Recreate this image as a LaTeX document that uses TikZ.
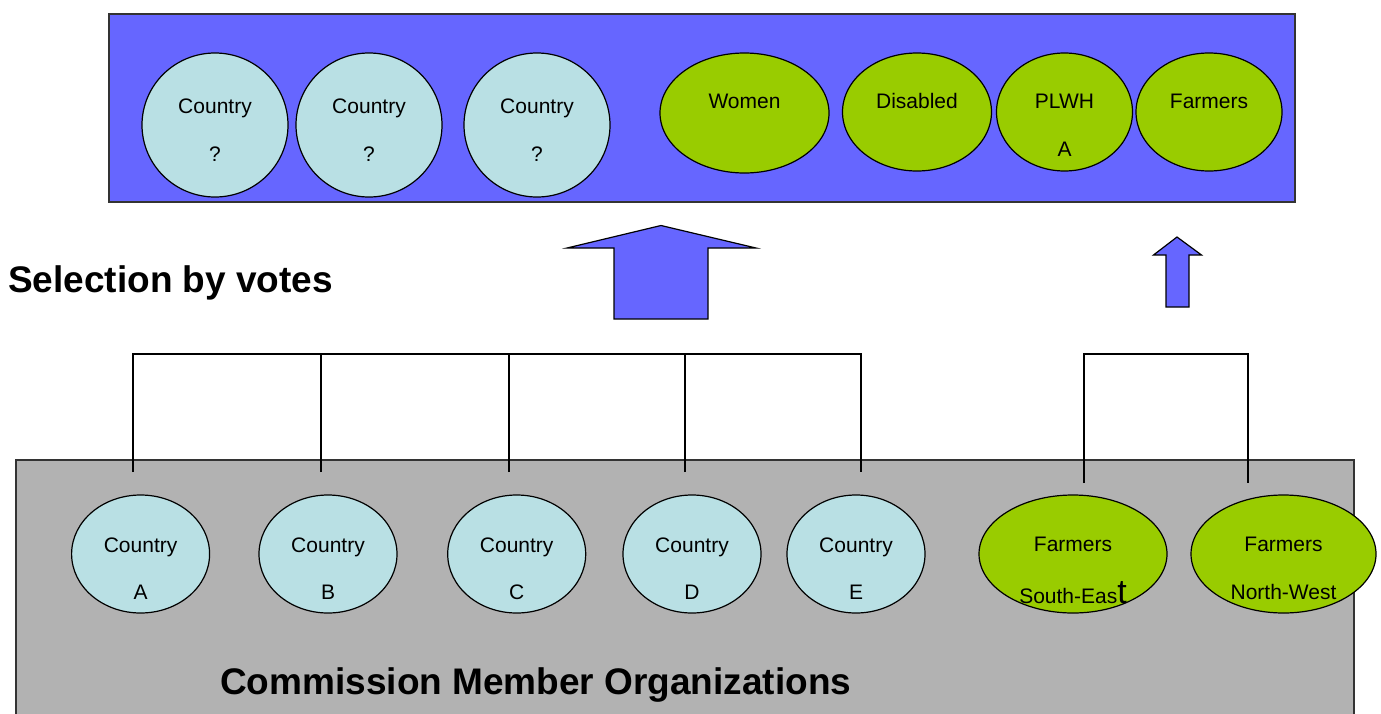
\documentclass[tikz,border=0pt]{standalone}
\usepackage{fontspec}
\setmainfont{Liberation Sans}
\usetikzlibrary{shapes.geometric}
\definecolor{topblue}{HTML}{6666FF}
\definecolor{cyanish}{HTML}{B9E0E4}
\definecolor{greenish}{HTML}{99CC00}
\definecolor{boxgray}{HTML}{B2B2B2}
\definecolor{edgegray}{HTML}{333333}
\begin{document}
\begin{tikzpicture}[x=1pt,y=-1pt,
  ell/.style={ellipse, draw=black, line width=1.2pt, inner sep=0pt},
  cty/.style={ell, fill=cyanish},
  grp/.style={ell, fill=greenish},
  lbl/.style={inner sep=0pt, anchor=base, font=\fontsize{21}{25}\selectfont},
  big/.style={inner sep=0pt, anchor=base west, font=\fontsize{37}{42}\selectfont\bfseries},
  wire/.style={line width=1.4pt, draw=black},
  fatarrow/.style={fill=topblue, draw=black, line width=1.2pt, line join=miter},
  panel/.style={draw=edgegray, line width=1.4pt, inner sep=0pt}
]
\useasboundingbox (0,0) rectangle (1381,713);
\clip (0,0) rectangle (1381,713);

% top panel
\node[panel, fill=topblue, minimum width=1186pt, minimum height=188pt] (toppanel) at (702,108) {};
\node[cty, minimum width=146pt, minimum height=144pt] (q1) at (215,125) {};
\node[cty, minimum width=146pt, minimum height=144pt] (q2) at (369,125) {};
\node[cty, minimum width=146pt, minimum height=144pt] (q3) at (537,125) {};
\node[lbl] (q1a) at (215,113.5) {Country};
\node[lbl] (q1b) at (215,161) {?};
\node[lbl] (q2a) at (369,113.5) {Country};
\node[lbl] (q2b) at (369,161) {?};
\node[lbl] (q3a) at (537,113.5) {Country};
\node[lbl] (q3b) at (537,161) {?};

\node[grp, minimum width=169pt, minimum height=120pt] (women) at (744.5,113) {};
\node[grp, minimum width=149pt, minimum height=118pt] (disabled) at (917,112) {};
\node[grp, minimum width=136pt, minimum height=118pt] (plwh) at (1064.5,112) {};
\node[grp, minimum width=146pt, minimum height=118pt] (farmtop) at (1209,112) {};
\node[lbl] (womenl) at (744.5,108) {Women};
\node[lbl] (disabledl) at (917,108) {Disabled};
\node[lbl] (plwhl) at (1064.5,108) {PLWH};
\node[lbl] (plwhl2) at (1064.5,156) {A};
\node[lbl] (farmtopl) at (1209,108) {Farmers};

% arrows
\draw[fatarrow] (614,319) -- (614,248) -- (567,248) -- (661,225.5) -- (756,248) -- (708,248) -- (708,319) -- cycle;
\draw[fatarrow] (1166,307) -- (1166,255) -- (1153.5,255) -- (1177,237) -- (1201.5,255) -- (1189,255) -- (1189,307) -- cycle;

% title
\node[big] (sel) at (8,292.5) {Selection by votes};

% bottom panel
\node[panel, fill=boxgray, minimum width=1338pt, minimum height=280pt] (cmo) at (685,600) {};

% connectors
\coordinate (ea) at (133,472);
\coordinate (eb) at (321,472);
\coordinate (ec) at (509,472);
\coordinate (ed) at (685,472);
\coordinate (ee) at (861,472);
\coordinate (ba) at (133,354);
\coordinate (bb) at (321,354);
\coordinate (bc) at (509,354);
\coordinate (bd) at (685,354);
\coordinate (be) at (861,354);
\draw[wire] (ea) -- (ba) -- (be) -- (ee);
\draw[wire] (eb) -- (bb);
\draw[wire] (ec) -- (bc);
\draw[wire] (ed) -- (bd);
\coordinate (efs) at (1084,483);
\coordinate (efn) at (1248,483);
\coordinate (bfs) at (1084,354);
\coordinate (bfn) at (1248,354);
\draw[wire] (efs) -- (bfs) -- (bfn) -- (efn);

% bottom ellipses
\node[cty, minimum width=138pt, minimum height=118pt] (ca) at (140.6,554) {};
\node[cty, minimum width=138pt, minimum height=118pt] (cb) at (328,554) {};
\node[cty, minimum width=138pt, minimum height=118pt] (cc) at (516.7,554) {};
\node[cty, minimum width=138pt, minimum height=118pt] (cd) at (692,554) {};
\node[cty, minimum width=138pt, minimum height=118pt] (ce) at (856,554) {};
\node[grp, minimum width=188pt, minimum height=118pt] (fse) at (1073,554) {};
\node[grp, minimum width=185pt, minimum height=118pt] (fnw) at (1283.5,554) {};
\node[lbl] (cal) at (140.6,552) {Country};
\node[lbl] (ca2) at (140.6,599) {A};
\node[lbl] (cbl) at (328,552) {Country};
\node[lbl] (cb2) at (328,599) {B};
\node[lbl] (ccl) at (516.7,552) {Country};
\node[lbl] (cc2) at (516.7,599) {C};
\node[lbl] (cdl) at (692,552) {Country};
\node[lbl] (cd2) at (692,599) {D};
\node[lbl] (cel) at (856,552) {Country};
\node[lbl] (ce2) at (856,599) {E};
\node[lbl] (fsel) at (1073,551) {Farmers};
\node[lbl] (fse2) at (1073,603) {South-Eas{\fontsize{34}{34}\selectfont t}};
\node[lbl] (fnwl) at (1283.5,551) {Farmers};
\node[lbl] (fnw2) at (1283.5,599) {North-West};

\node[big] (cmol) at (220,694) {Commission Member Organizations};
\end{tikzpicture}
\end{document}
